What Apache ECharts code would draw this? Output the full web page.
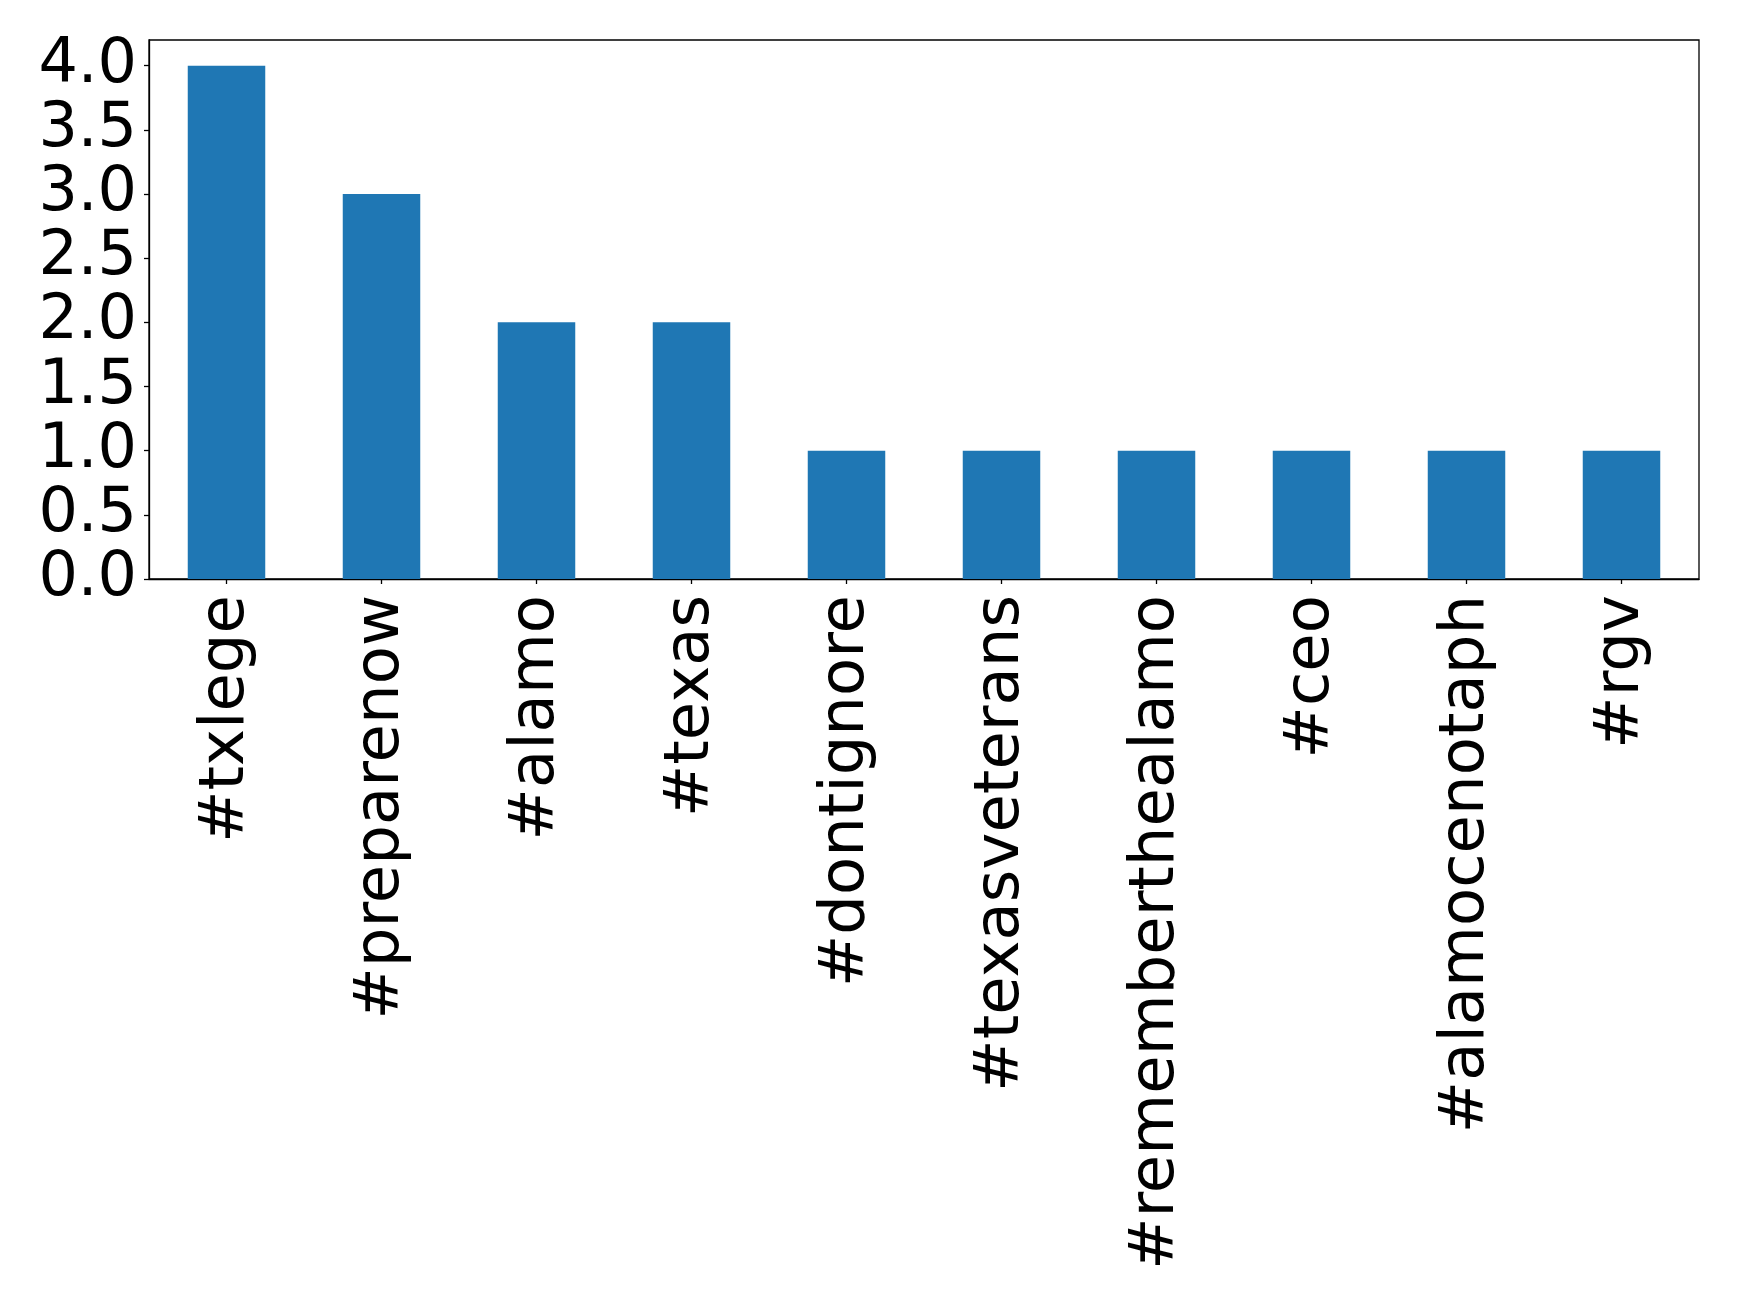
<!DOCTYPE html>
<html>
<head>
<meta charset="utf-8">
<script src="https://cdn.jsdelivr.net/npm/echarts@6/dist/echarts.min.js"></script>
<style>
html,body{margin:0;padding:0;background:#fff;}
#chart{width:1739px;height:1303px;}
</style>
</head>
<body>
<div id="chart"></div>
<script>
const categories = ['#txlege','#preparenow','#alamo','#texas','#dontignore','#texasveterans','#rememberthealamo','#ceo','#alamocenotaph','#rgv'];
const counts = [4,3,2,2,1,1,1,1,1,1];
const yTicks = [0,0.5,1,1.5,2,2.5,3,3.5,4];

const chart = echarts.init(document.getElementById('chart'), null, {renderer:'canvas'});
const font = 'DejaVu Sans';
chart.setOption({
  animation:false,
  backgroundColor:'#fff',
  grid:{left:149,right:40,top:40,bottom:724,show:true,borderColor:'#000',borderWidth:1.3,containLabel:false},
  xAxis:{
    type:'category',
    data:categories,
    boundaryGap:true,
    axisLine:{show:true,lineStyle:{color:'#000',width:1.3}},
    axisTick:{show:true,alignWithLabel:true,length:5,lineStyle:{color:'#000',width:1.3}},
    axisLabel:{rotate:90,interval:0,margin:16,fontFamily:font,fontSize:62.5,color:'#000',padding:[0,0,0,0]},
    splitLine:{show:false}
  },
  yAxis:{
    type:'value',
    min:0,max:4.2,
    axisLine:{show:true,lineStyle:{color:'#000',width:1.3}},
    axisTick:{show:true,length:5,customValues:yTicks,lineStyle:{color:'#000',width:1.3}},
    axisLabel:{customValues:yTicks,margin:12,fontFamily:font,fontSize:62,color:'#000',formatter:v=>v.toFixed(1)},
    splitLine:{show:false}
  },
  series:[{type:'bar',data:counts,barWidth:'50%',itemStyle:{color:'#1f77b4'}}]
});
</script>
</body>
</html>
